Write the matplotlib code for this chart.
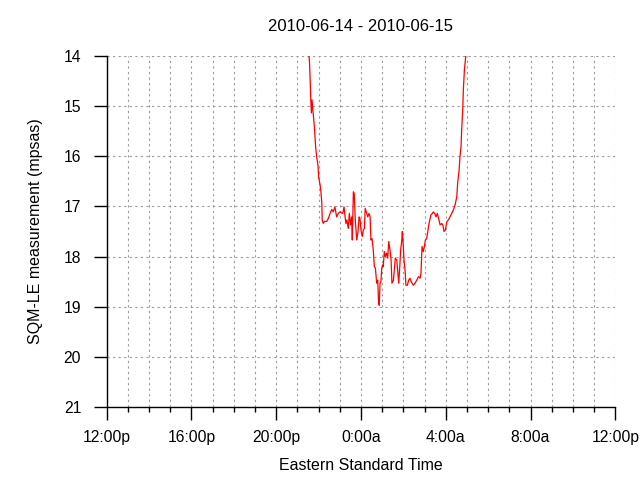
import matplotlib
matplotlib.use("Agg")
import matplotlib.pyplot as plt
from matplotlib.ticker import MultipleLocator

plt.rcParams['font.family'] = ['Liberation Sans', 'DejaVu Sans']

# hours since 12:00p on 2010-06-14, and sky brightness (mpsas)
hours = [
    9.52, 9.57, 9.61, 9.63, 9.66, 9.69, 9.72, 9.75, 9.80, 9.86,
    9.91, 9.97, 10.00, 10.07, 10.11, 10.15, 10.17, 10.22, 10.27, 10.38,
    10.46, 10.54, 10.62, 10.69, 10.77, 10.85, 10.93, 11.01, 11.14, 11.20,
    11.25, 11.29, 11.33, 11.40, 11.45, 11.51, 11.56, 11.59, 11.64, 11.68,
    11.73, 11.80, 11.86, 11.91, 11.95, 12.00, 12.06, 12.11, 12.16, 12.20,
    12.27, 12.32, 12.38, 12.43, 12.47, 12.52, 12.58, 12.63, 12.68, 12.74,
    12.79, 12.82, 12.86, 12.90, 12.94, 12.98, 13.02, 13.05, 13.10, 13.15,
    13.21, 13.26, 13.31, 13.37, 13.42, 13.46, 13.53, 13.57, 13.62, 13.69,
    13.73, 13.78, 13.83, 13.87, 13.92, 13.95, 13.98, 14.03, 14.08, 14.12,
    14.19, 14.25, 14.31, 14.37, 14.47, 14.55, 14.63, 14.71, 14.79, 14.83,
    14.88, 14.94, 14.99, 15.04, 15.10, 15.15, 15.21, 15.26, 15.30, 15.37,
    15.41, 15.48, 15.54, 15.60, 15.68, 15.73, 15.81, 15.86, 15.92, 15.98,
    16.05, 16.12, 16.20, 16.28, 16.36, 16.44, 16.52, 16.56, 16.63, 16.67,
    16.72, 16.75, 16.80, 16.83, 16.88, 16.94, 16.98,
]
mpsas = [
    13.88, 14.13, 14.58, 14.88, 15.14, 14.88, 15.04, 15.18, 15.42, 15.82,
    16.02, 16.18, 16.42, 16.57, 16.71, 16.93, 17.27, 17.34, 17.30, 17.30,
    17.24, 17.14, 17.06, 17.11, 17.01, 17.21, 17.14, 17.11, 17.14, 17.01,
    17.21, 17.34, 17.27, 17.44, 17.14, 17.37, 17.21, 17.67, 16.71, 16.74,
    17.27, 17.67, 17.50, 17.21, 17.24, 17.47, 17.60, 17.47, 17.44, 17.04,
    17.14, 17.21, 17.14, 17.21, 17.67, 17.64, 17.87, 18.20, 18.23, 18.53,
    18.47, 18.83, 18.97, 18.53, 18.50, 18.23, 18.17, 18.20, 17.90, 18.00,
    17.93, 18.03, 17.70, 17.87, 18.07, 18.53, 18.47, 18.27, 18.03, 18.07,
    18.27, 18.53, 18.20, 17.87, 17.70, 17.50, 17.67, 18.07, 18.27, 18.57,
    18.57, 18.47, 18.43, 18.50, 18.57, 18.53, 18.47, 18.40, 18.43, 18.33,
    17.80, 17.90, 17.80, 17.67, 17.64, 17.50, 17.34, 17.24, 17.17, 17.14,
    17.11, 17.14, 17.21, 17.14, 17.27, 17.37, 17.34, 17.37, 17.50, 17.47,
    17.31, 17.27, 17.21, 17.14, 17.07, 16.97, 16.81, 16.54, 16.28, 16.01,
    15.81, 15.48, 15.08, 14.68, 14.28, 14.02, 13.85,
]
tick_hours = [0, 4, 8, 12, 16, 20, 24]
tick_labels = ['12:00p', '16:00p', '20:00p', '0:00a', '4:00a', '8:00a', '12:00p']

fig = plt.figure(figsize=(6.4, 4.8), dpi=100)
ax = fig.add_axes([0.1667, 0.1515, 0.7947, 0.7325])

ax.plot(hours, mpsas, color='red', linewidth=0.9)

ax.set_xlim(0, 24)
ax.set_ylim(21, 14)
ax.set_xticks(tick_hours)
ax.set_xticklabels(tick_labels)
ax.xaxis.set_minor_locator(MultipleLocator(1))
ax.yaxis.set_major_locator(MultipleLocator(1))

ax.grid(True, which='both', axis='x', color='#999999', linestyle=(0, (2, 3)), linewidth=0.8)
ax.grid(True, which='major', axis='y', color='#999999', linestyle=(0, (2, 3)), linewidth=0.8)

for side in ['top', 'right']:
    ax.spines[side].set_visible(False)
for side in ['left', 'bottom']:
    ax.spines[side].set_linewidth(1.0)

ax.tick_params(which='major', direction='out', length=9.4, width=1.0, labelsize=11.3, pad=7)
ax.tick_params(axis='y', which='major', pad=9)
ax.tick_params(which='minor', direction='out', length=3.6, width=1.0)

ax.set_title('2010-06-14 - 2010-06-15', fontsize=12, pad=18)
ax.set_xlabel('Eastern Standard Time', fontsize=11.5, labelpad=9)
ax.set_ylabel('SQM-LE measurement (mpsas)', fontsize=11.5, labelpad=15)

fig.savefig('out.png', dpi=100)
